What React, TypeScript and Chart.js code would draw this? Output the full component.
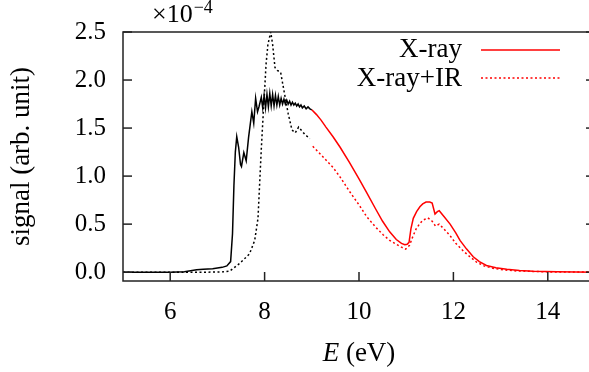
import React, { useEffect, useRef } from "react";
import { Chart, registerables } from "chart.js";

Chart.register(...registerables);

const FONT = "Liberation Serif, DejaVu Serif, serif";
const RED = "#ff0000";
const BLACK = "#000000";
const AXIS = "#222222";
const SPLIT_E = 9;

const X_MIN = 5;
const X_MAX = 15;
const Y_MIN = -0.092;
const Y_MAX = 2.5;
const X_TICKS = [6, 8, 10, 12, 14];
const Y_TICKS = [0, 0.5, 1, 1.5, 2, 2.5];
const Y_TICK_LABELS = ["0.0", "0.5", "1.0", "1.5", "2.0", "2.5"];

const SERIES_LABELS = ["X-ray", "X-ray+IR"];

// X-ray (solid) — energy (eV) and signal (x1e-4)
const xrayE = [
  5, 5.5, 6, 6.3, 6.56, 6.7, 6.9, 7.1, 7.2, 7.28, 7.32, 7.35, 7.38, 7.41, 7.45, 7.49, 7.51,
  7.56, 7.61, 7.66, 7.73, 7.77, 7.81, 7.85, 7.88, 7.93, 7.96, 7.99, 8.02, 8.05, 8.08, 8.11,
  8.14, 8.17, 8.2, 8.23, 8.26, 8.29, 8.32, 8.35, 8.38, 8.41, 8.44, 8.47, 8.5, 8.53, 8.56,
  8.59, 8.62, 8.65, 8.68, 8.71, 8.74, 8.77, 8.8, 8.84, 8.88, 8.92, 8.96, 9.0, 9.1, 9.2,
  9.3, 9.45, 9.6, 9.8, 10.0, 10.16, 10.35, 10.5, 10.65, 10.79, 10.9, 10.97, 11.02, 11.06,
  11.1, 11.15, 11.22, 11.29, 11.35, 11.42, 11.5, 11.55, 11.61, 11.66, 11.7, 11.8, 11.93,
  12.05, 12.14, 12.28, 12.42, 12.55, 12.7, 12.9, 13.13, 13.4, 13.69, 14.2, 15,
];
const xraySignal = [
  0, 0, 0, 0.005, 0.025, 0.03, 0.035, 0.05, 0.065, 0.11, 0.4, 0.9, 1.25, 1.41, 1.3, 1.12, 1.1,
  1.245, 1.16, 1.4, 1.67, 1.55, 1.81, 1.67, 1.72, 1.82, 1.71, 1.84, 1.71, 1.85, 1.72, 1.86,
  1.73, 1.85, 1.73, 1.84, 1.74, 1.83, 1.74, 1.81, 1.75, 1.8, 1.75, 1.79, 1.75, 1.78, 1.74,
  1.77, 1.74, 1.76, 1.73, 1.75, 1.72, 1.74, 1.71, 1.73, 1.7, 1.72, 1.7, 1.69, 1.64, 1.58,
  1.51, 1.41, 1.3, 1.14, 0.97, 0.83, 0.66, 0.53, 0.42, 0.34, 0.3, 0.285, 0.29, 0.31,
  0.45, 0.56, 0.63, 0.68, 0.71, 0.73, 0.73, 0.72, 0.605, 0.63, 0.64, 0.58, 0.5,
  0.41, 0.33, 0.24, 0.16, 0.11, 0.07, 0.045, 0.03, 0.018, 0.01, 0.003, 0,
];

// X-ray+IR (dotted)
const irE = [
  5, 6, 6.8, 7.1, 7.26, 7.47, 7.68, 7.79, 7.86, 7.89, 7.93, 7.96, 8.0, 8.03, 8.07, 8.13,
  8.17, 8.22, 8.27, 8.34, 8.41, 8.5, 8.58, 8.65, 8.72, 8.79, 8.86, 8.96, 9.0, 9.02, 9.2,
  9.45, 9.6, 9.8, 10.0, 10.16, 10.35, 10.51, 10.65, 10.79, 10.9, 10.99, 11.07, 11.14,
  11.21, 11.28, 11.35, 11.46, 11.55, 11.62, 11.7, 11.8, 11.93, 12.05, 12.21, 12.35, 12.49,
  12.65, 12.84, 13.05, 13.34, 14, 15,
];
const irSignal = [
  0, 0, 0, 0.003, 0.01, 0.09, 0.19, 0.33, 0.56, 0.87, 1.28, 1.55, 1.89, 2.16, 2.37, 2.5,
  2.37, 2.13, 2.1, 2.08, 1.89, 1.65, 1.48, 1.45, 1.51, 1.47, 1.43, 1.39, null, 1.31, 1.22,
  1.09, 0.99, 0.84, 0.7, 0.58, 0.47, 0.39, 0.33, 0.29, 0.26, 0.24, 0.28, 0.37,
  0.45, 0.5, 0.54, 0.565, 0.53, 0.48, 0.5, 0.45, 0.38, 0.3, 0.22, 0.16, 0.105,
  0.065, 0.04, 0.025, 0.013, 0.003, 0,
];

const zip = (xs: number[], ys: (number | null)[]) => xs.map((x, i) => ({ x, y: ys[i] }));

const segColor = (ctx: any) => (ctx.p0.parsed.x >= SPLIT_E - 1e-6 ? RED : BLACK);

const decorPlugin = {
  id: "decor",
  afterDraw(chart: any) {
    const { ctx, chartArea: a, scales } = chart;
    const x = scales.x;
    const y = scales.y;
    ctx.save();
    ctx.strokeStyle = AXIS;
    ctx.lineWidth = 1.5;
    ctx.strokeRect(a.left, a.top, a.right - a.left, a.bottom - a.top);
    const seg = (x1: number, y1: number, x2: number, y2: number) => {
      ctx.beginPath();
      ctx.moveTo(x1, y1);
      ctx.lineTo(x2, y2);
      ctx.stroke();
    };
    for (const v of Y_TICKS) {
      const py = y.getPixelForValue(v);
      seg(a.left, py, a.left + 9, py);
      seg(a.right - 9, py, a.right, py);
    }
    for (const v of X_TICKS) {
      const px = x.getPixelForValue(v);
      seg(px, a.bottom, px, a.bottom - 9);
    }
    ctx.fillStyle = "#000";
    ctx.textAlign = "left";
    ctx.textBaseline = "alphabetic";
    ctx.font = `26px ${FONT}`;
    ctx.fillText("×10", 152, 22);
    const w = ctx.measureText("×10").width;
    ctx.font = `18px ${FONT}`;
    ctx.fillText("−4", 152 + w + 1, 13);
    ctx.font = `italic 27px ${FONT}`;
    const wE = ctx.measureText("E").width;
    ctx.font = `27px ${FONT}`;
    const wRest = ctx.measureText(" (eV)").width;
    const cx = (a.left + a.right) / 2;
    const startX = cx - (wE + wRest) / 2;
    ctx.font = `italic 27px ${FONT}`;
    ctx.fillText("E", startX, 361);
    ctx.font = `27px ${FONT}`;
    ctx.fillText(" (eV)", startX + wE, 361);
    const rows = [
      { label: chart.data.datasets[0].label, dash: [] as number[], yb: 57, yl: 50 },
      { label: chart.data.datasets[1].label, dash: [2, 2.5], yb: 86, yl: 78 },
    ];
    for (const r of rows) {
      ctx.font = `27px ${FONT}`;
      ctx.textAlign = "right";
      ctx.fillStyle = "#000";
      ctx.fillText(r.label, 462, r.yb);
      ctx.strokeStyle = RED;
      ctx.lineWidth = 1.5;
      ctx.setLineDash(r.dash);
      seg(481, r.yl, 560, r.yl);
      ctx.setLineDash([]);
    }
    ctx.restore();
  },
};

export default function App() {
  const ref = useRef<HTMLCanvasElement | null>(null);
  useEffect(() => {
    if (!ref.current) return;
    const chart = new Chart(ref.current, {
      type: "line",
      data: {
        datasets: [
          {
            label: SERIES_LABELS[0],
            data: zip(xrayE, xraySignal),
            borderColor: BLACK,
            borderWidth: 1.5,
            pointRadius: 0,
            tension: 0,
            segment: { borderColor: segColor },
          },
          {
            label: SERIES_LABELS[1],
            data: zip(irE, irSignal),
            borderColor: BLACK,
            borderWidth: 1.5,
            borderDash: [2, 2.5],
            pointRadius: 0,
            tension: 0,
            spanGaps: false,
            segment: { borderColor: segColor },
          },
        ],
      },
      options: {
        animation: false,
        responsive: false,
        devicePixelRatio: 1,
        layout: { padding: { left: 0, top: 27, right: 25, bottom: 0 } },
        plugins: { legend: { display: false }, tooltip: { enabled: false } },
        scales: {
          x: {
            type: "linear",
            min: X_MIN,
            max: X_MAX,
            grid: { display: false, drawTicks: false },
            border: { display: false },
            afterBuildTicks: (s: any) => {
              s.ticks = X_TICKS.map((v) => ({ value: v }));
            },
            afterFit: (s: any) => {
              s.height = 91;
            },
            ticks: {
              color: "#000",
              padding: 16,
              maxRotation: 0,
              font: { family: FONT, size: 25 },
              callback: (v: any) => String(v),
            },
          },
          y: {
            type: "linear",
            min: Y_MIN,
            max: Y_MAX,
            grid: { display: false, drawTicks: false },
            border: { display: false },
            afterBuildTicks: (s: any) => {
              s.ticks = Y_TICKS.map((v) => ({ value: v }));
            },
            afterFit: (s: any) => {
              s.width = 123;
            },
            ticks: {
              color: "#000",
              padding: 17,
              font: { family: FONT, size: 25 },
              callback: (v: any) => {
                const i = Y_TICKS.findIndex((t) => Math.abs(t - Number(v)) < 1e-9);
                return i >= 0 ? Y_TICK_LABELS[i] : "";
              },
            },
            title: {
              display: true,
              text: "signal (arb. unit)",
              color: "#000",
              font: { family: FONT, size: 27 },
              padding: { top: 6, bottom: 0 },
            },
          },
        },
      },
      plugins: [decorPlugin],
    });
    return () => chart.destroy();
  }, []);
  return (
    <div
      style={{
        position: "fixed",
        left: 0,
        top: 0,
        width: 589,
        height: 372,
        overflow: "hidden",
        background: "#fff",
      }}
    >
      <canvas ref={ref} width={620} height={372} style={{ width: 620, height: 372, display: "block" }} />
    </div>
  );
}
